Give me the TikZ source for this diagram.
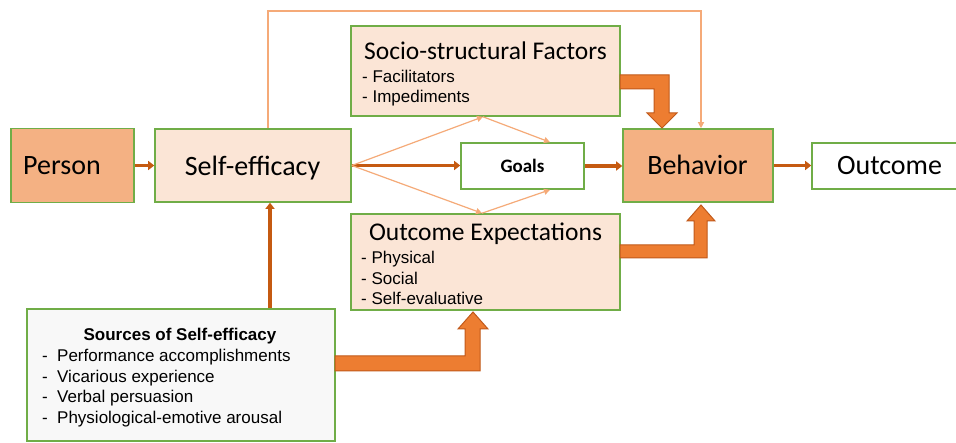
\documentclass[tikz,border=0pt]{standalone}
\usepackage{fontspec}
\setmainfont{Carlito}
\newfontfamily\arialf{Liberation Sans}
\usetikzlibrary{arrows.meta,calc}
\definecolor{grn}{HTML}{70AD47}
\definecolor{pdark}{HTML}{F4B183}
\definecolor{plight}{HTML}{FBE5D6}
\definecolor{brn}{HTML}{C55A11}
\definecolor{thinor}{HTML}{F5AA78}
\definecolor{blk}{HTML}{ED7D31}
\definecolor{blkb}{HTML}{C1591A}
\definecolor{srcfill}{HTML}{F8F8F8}
\begin{document}
\begin{tikzpicture}[x=1pt,y=-1pt,
  box/.style={draw=grn, line width=1.6pt, inner sep=0pt},
  lbl/.style={inner sep=0pt, anchor=base},
  lblw/.style={inner sep=0pt, anchor=base west},
  big/.style={font=\fontsize{28}{30}\selectfont},
  mid/.style={font=\fontsize{25.5}{28}\selectfont},
  sm/.style={font=\arialf\fontsize{17}{20}\selectfont},
  smb/.style={font=\arialf\bfseries\fontsize{17}{20}\selectfont},
  brarrow/.style={draw=brn, line width=3.8pt, -{Triangle[length=6pt,width=9pt]}},
  thinarrow/.style={draw=thinor, line width=1.2pt, -{Triangle[length=6pt,width=6pt]}},
  blockarrow/.style={fill=blk, draw=blkb, line width=1pt, line join=miter}
]
\useasboundingbox[fill=white] (0,0) rectangle (956,443);

% boxes
\node[box, fill=pdark, minimum width=123pt, minimum height=74pt] (person) at (72.5,165.5) {};
\node[box, fill=plight, minimum width=196pt, minimum height=73pt] (se) at (253,165.5) {};
\node[box, fill=plight, minimum width=269pt, minimum height=90pt] (soc) at (485.5,71) {};
\node[box, fill=white, minimum width=123pt, minimum height=46pt] (goals) at (522.5,166) {};
\node[box, fill=pdark, minimum width=150pt, minimum height=73pt] (beh) at (698,165.5) {};
\node[box, fill=white, minimum width=155pt, minimum height=46pt] (out) at (889.5,166) {};
\node[box, fill=plight, minimum width=269pt, minimum height=96pt] (oe) at (485.5,262) {};
\node[box, fill=srcfill, minimum width=308pt, minimum height=132pt] (src) at (181,375) {};

% labels
\node[lbl, big] (tperson) at (62,175) {Person};
\node[lbl, big] (tse) at (252.5,176) {Self-efficacy};
\node[lbl, big] (tbeh) at (697.5,175) {Behavior};
\node[lbl, big] (tout) at (889.5,175) {Outcome};
\node[lbl, font=\bfseries\fontsize{19}{21}\selectfont] (tgoals) at (522.5,173) {Goals};
\node[lbl, mid] (tsoc) at (485.5,60) {Socio-structural Factors};
\node[lblw, sm] (f1) at (362,83) {- Facilitators};
\node[lblw, sm] (f2) at (362,103) {- Impediments};
\node[lbl, mid] (toe) at (485.5,241) {Outcome Expectations};
\node[lblw, sm] (e1) at (361,264) {- Physical};
\node[lblw, sm] (e2) at (361,284.5) {- Social};
\node[lblw, sm] (e3) at (361,305) {- Self-evaluative};
\node[lbl, smb] (tsrc) at (180,341) {Sources of Self-efficacy};
\node[lblw, sm] (d1) at (42,362) {-};
\node[lblw, sm] (s1) at (57,362) {Performance accomplishments};
\node[lblw, sm] (d2) at (42,383) {-};
\node[lblw, sm] (s2) at (57,383) {Vicarious experience};
\node[lblw, sm] (d3) at (42,403) {-};
\node[lblw, sm] (s3) at (57,403) {Verbal persuasion};
\node[lblw, sm] (d4) at (42,424) {-};
\node[lblw, sm] (s4) at (57,424) {Physiological-emotive arousal};

% brown arrows
\coordinate (c270) at (270,0);
\draw[brarrow] (person.east) -- (se.west);
\draw[brarrow] (se.east) -- (se.east -| goals.west);
\draw[brarrow] (goals.east) -- (beh.west |- goals.east);
\draw[brarrow] (beh.east) -- (out.west |- beh.east);
\draw[brarrow] (src.north -| c270) -- (se.south -| c270);

% thin orange arrows
\coordinate (tl) at (268,11);
\coordinate (tr) at (701,11);
\draw[thinarrow, line join=miter] (se.north -| tl) -- (tl) -- (tr) -- (beh.north -| tr);
\coordinate (sb) at ([xshift=-2.5pt]soc.south);
\coordinate (ob) at ([xshift=-3.5pt]oe.north);
\draw[thinarrow] (se.east) -- (sb);
\draw[thinarrow] (sb) -- ([xshift=27.5pt]goals.north);
\draw[thinarrow] (se.east) -- (ob);
\draw[thinarrow] (ob) -- ([xshift=27.5pt]goals.south);

% block arrows
\path[blockarrow] (620,75) -- (669,75) -- (669,113) -- (677,113) -- (662,128) -- (647,113) -- (654,113) -- (654,89) -- (620,89) -- cycle;
\path[blockarrow] (620,245) -- (694,245) -- (694,221) -- (687,221) -- (701,205) -- (715,221) -- (707,221) -- (707,258) -- (620,258) -- cycle;
\path[blockarrow] (335,356) -- (465,356) -- (465,329) -- (458,329) -- (473,312) -- (488,329) -- (480,329) -- (480,371) -- (335,371) -- cycle;
\end{tikzpicture}
\end{document}
